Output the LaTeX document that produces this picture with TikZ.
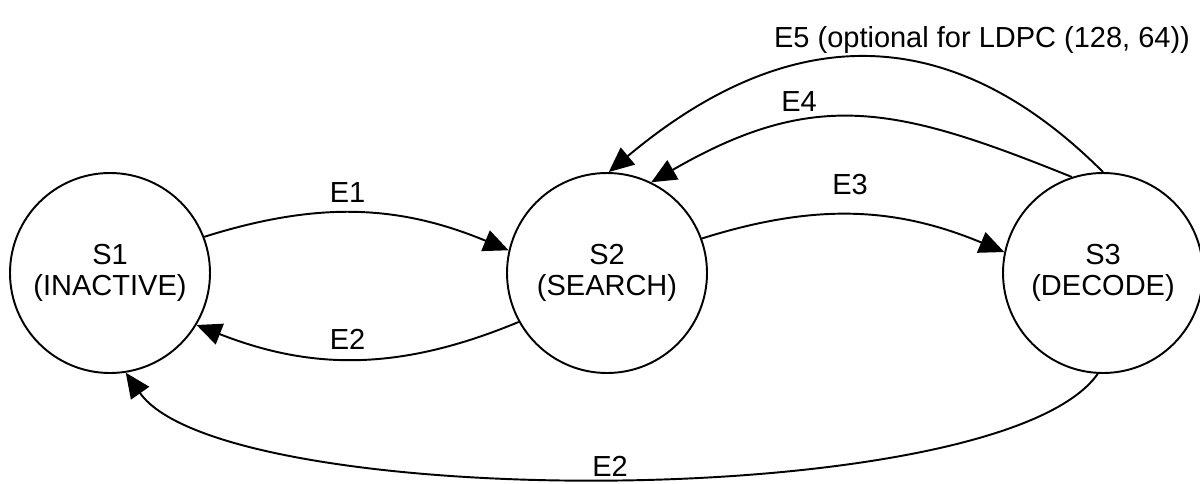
\documentclass[tikz,border=0pt]{standalone}
\usepackage{fontspec}
\setmainfont{Liberation Sans}
\usetikzlibrary{arrows.meta}

\begin{document}
\begin{tikzpicture}[
    state/.style={draw, circle, line width=1.1pt, minimum size=4cm, align=center, inner sep=0pt},
    trans/.style={line width=1.1pt, -{Triangle[length=0.5cm, width=0.44cm]}},
    every node/.style={font=\fontsize{16.5}{18}\selectfont}
  ]
    \useasboundingbox (0,0) rectangle (24,9.66);

    % Draw the three states
    \node[state] (s1) at (2.2,4.2) {S1\\(INACTIVE)};
    \node[state] (s2) at (12.14,4.2) {S2\\(SEARCH)};
    \node[state] (s3) at (22.06,4.2) {S3\\(DECODE)};

    % Draw the transitions
    \draw[trans] (s1.21) to[bend left=20] (s2.167);
    \draw[trans] (s2.209) to[bend left=22] (s1.-31);
    \draw[trans] (s2.20) to[bend left=20] (s3.168);
    \draw[trans] (s3.108) to[out=158, in=30, looseness=1.15] (s2.64);
    \draw[trans] (s3.90) to[out=135, in=40, looseness=1.17] (s2.89);
    \draw[trans] (s3.267) to[out=235, in=-55, looseness=0.45] (s1.-81);

    % Labels
    \node (l1) at (6.95,5.8) {E1};
    \node (l2) at (6.95,2.88) {E2};
    \node (l3) at (17.0,5.96) {E3};
    \node (l4) at (15.98,7.62) {E4};
    \node[anchor=base] (l5) at (19.64,8.72) {E5 (optional for LDPC (128, 64))};
    \node (l6) at (12.2,0.34) {E2};
\end{tikzpicture}
\end{document}
